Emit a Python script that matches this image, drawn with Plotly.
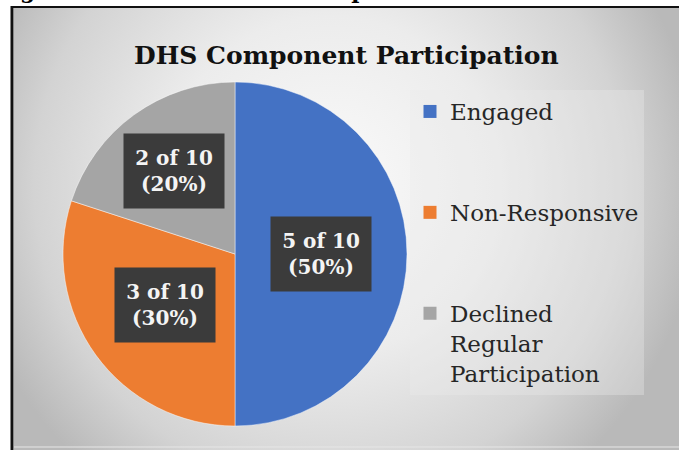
import math
import plotly.graph_objects as go

# ---- data ----
categories = ["Engaged", "Non-Responsive", "Declined<br>Regular<br>Participation"]
values = [5, 3, 2]
total_schools = 10
colors = ["#4472C4", "#ED7D31", "#A5A5A5"]
label_radius = [0.5, 0.5, 0.6]

W, H = 679, 450
SERIF = "DejaVu Serif"

pie_dom_x = [(235 - 172) / W, (235 + 172) / W]
pie_dom_y = [1 - 426 / H, 1 - 82 / H]

fig = go.Figure()

# background gradient inside the frame (axes mapped to pixels)
fig.add_trace(go.Scatter(
    x=[-40, 700, 700, -40, -40], y=[-190, -190, 560, 560, -190],
    mode="lines", line=dict(width=0), fill="toself",
    fillgradient=dict(type="radial",
                      colorscale=[[0, "#fafafa"], [0.45, "#ececec"], [0.8, "#d3d3d3"], [1, "#b9b9b9"]]),
    hoverinfo="skip", showlegend=False,
))

fig.add_trace(go.Pie(
    labels=categories, values=values, sort=False, direction="clockwise", rotation=0,
    marker=dict(colors=colors, line=dict(color="rgba(255,255,255,0.45)", width=1)),
    textinfo="none", hoverinfo="label+value+percent", showlegend=False,
    domain=dict(x=pie_dom_x, y=pie_dom_y),
))

# legend entries
for i, (c, col) in enumerate(zip(categories, colors)):
    fig.add_trace(go.Scatter(
        x=[None], y=[None], mode="markers", name=c, legendgroup=f"g{i}",
        marker=dict(symbol="square", size=13, color=col),
    ))

# data labels computed from the slice angles
cx = (pie_dom_x[0] + pie_dom_x[1]) / 2 * W
cy = (1 - (pie_dom_y[0] + pie_dom_y[1]) / 2) * H
R = min((pie_dom_x[1] - pie_dom_x[0]) * W, (pie_dom_y[1] - pie_dom_y[0]) * H) / 2
tot = sum(values)
cum = 0
annotations = []
for v, rf in zip(values, label_radius):
    theta = math.radians((cum + v / 2) / tot * 360)
    cum += v
    annotations.append(dict(
        x=cx + rf * R * math.sin(theta), y=cy - rf * R * math.cos(theta),
        xref="x", yref="y", showarrow=False,
        text=f"<b>{v} of {total_schools}<br>({round(100 * v / tot)}%)</b>",
        font=dict(family=SERIF, size=20, color="#f4f4f4"),
        bgcolor="#3b3b3b", width=84, height=58, borderpad=8, align="center",
    ))

annotations.append(dict(
    x=346 / W, y=1 - 39 / H, xref="paper", yref="paper", showarrow=False,
    text="<b>DHS Component Participation</b>",
    font=dict(family=SERIF, size=25, color="#111111"),
))
annotations.append(dict(
    x=-6 / W, y=1 - 5 / H, xref="paper", yref="paper", xanchor="left", yanchor="bottom",
    showarrow=False, text="<b>Figure 2: DHS SSP-B: Participation Status</b>",
    font=dict(family=SERIF, size=22, color="#000000"),
))

shapes = [
    dict(type="line", xref="paper", yref="paper", x0=12 / W, x1=12 / W, y0=0, y1=1 - 6 / H,
         line=dict(color="#111111", width=3)),
    dict(type="line", xref="paper", yref="paper", x0=11 / W, x1=1, y0=1 - 7 / H, y1=1 - 7 / H,
         line=dict(color="#111111", width=2)),
    dict(type="line", xref="paper", yref="paper", x0=14 / W, x1=1, y0=1 - 447 / H, y1=1 - 447 / H,
         line=dict(color="#e6e6e6", width=1)),
]

fig.update_layout(
    width=W, height=H, margin=dict(l=0, r=0, t=0, b=0),
    paper_bgcolor="#ffffff", plot_bgcolor="rgba(0,0,0,0)",
    xaxis=dict(domain=[14 / W, 1], range=[14, W], visible=False, fixedrange=True),
    yaxis=dict(domain=[0, 1 - 8 / H], range=[H, 8], visible=False, fixedrange=True),
    showlegend=True,
    legend=dict(
        x=410 / W, xanchor="left", y=1 - 90 / H, yanchor="top", valign="top",
        bgcolor="rgba(236,236,236,0.35)", borderwidth=0,
        font=dict(family=SERIF, size=23, color="#262626"),
        traceorder="grouped", tracegroupgap=68, itemsizing="trace",
    ),
    annotations=annotations, shapes=shapes,
)

fig.write_html("out.html")
